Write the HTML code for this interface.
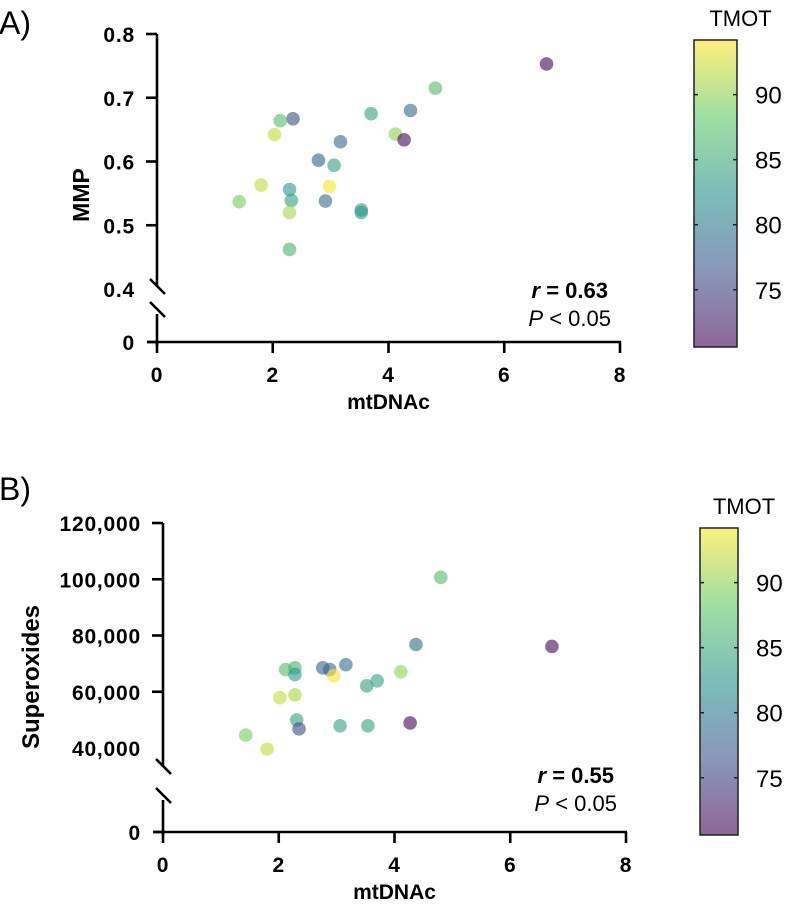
<!DOCTYPE html>
<html><head><meta charset="utf-8"><style>
html,body{margin:0;padding:0;background:#fff;}
svg{display:block;font-family:"Liberation Sans",Arial,sans-serif;}
</style></head><body>
<svg id="fig" width="786" height="910" viewBox="0 0 786 910" xmlns="http://www.w3.org/2000/svg">
<defs>
<linearGradient id="vir" x1="0" y1="1" x2="0" y2="0">
<stop offset="0" stop-color="#440154"/><stop offset="0.25" stop-color="#3b528b"/><stop offset="0.5" stop-color="#21918c"/><stop offset="0.75" stop-color="#5ec962"/><stop offset="1" stop-color="#fde725"/>
</linearGradient>
</defs>
<g id="pa"></g>
<g id="pb"></g>
</svg>
<script>
const xTicks=[0,2,4,6,8];
const aYTicks=[0.4,0.5,0.6,0.7,0.8];
const aYTickLabels=["0.4","0.5","0.6","0.7","0.8"];
const bYTicks=[40000,60000,80000,100000,120000];
const bYTickLabels=["40,000","60,000","80,000","100,000","120,000"];
const cbTicks=[75,80,85,90];
const aX=[6.73,4.81,4.38,3.70,2.35,2.13,2.03,4.12,4.27,3.17,2.79,3.06,1.80,2.98,2.29,1.42,2.32,2.91,2.29,3.53,3.53,2.29];
const aY=[0.753,0.715,0.680,0.675,0.667,0.664,0.642,0.643,0.634,0.631,0.602,0.594,0.563,0.561,0.556,0.537,0.539,0.538,0.520,0.524,0.520,0.462];
const aT=[71,87,79,84,76,87,92,90,71,79,78,84,92,94,83,89,84,79,91,84,83,86];
const bX=[4.80,4.37,6.72,3.16,2.76,2.88,2.12,2.28,2.28,2.95,4.11,3.70,3.52,2.02,2.28,2.31,2.35,3.06,3.54,4.27,1.43,1.80];
const bY=[100700,76800,76100,69600,68500,67900,67900,68500,66100,65700,67100,63900,62100,57900,58900,50000,46800,47900,47900,48900,44600,39600];
const bT=[87,79,71,79,78,78,87,86,83,94,90,84,84,92,91,84,76,84,84,71,89,92];

const NS="http://www.w3.org/2000/svg";
function mk(parent,tag,attrs,text){const e=document.createElementNS(NS,tag);for(const k in attrs)e.setAttribute(k,attrs[k]);if(text!==undefined)e.textContent=text;parent.appendChild(e);return e;}
const VS=[[68,1,84],[59,82,139],[33,145,140],[94,201,98],[253,231,37]];
function vir(t){t=Math.max(0,Math.min(1,t));const s=t*4;const i=Math.min(3,Math.floor(s));const f=s-i;const a=VS[i],b=VS[i+1];return `rgb(${Math.round(a[0]+(b[0]-a[0])*f)},${Math.round(a[1]+(b[1]-a[1])*f)},${Math.round(a[2]+(b[2]-a[2])*f)})`;}
const TMIN=70.6,TMAX=94.2;

function panel(g,o){
  const sx=v=>o.x0+(o.x1-o.x0)*v/8;
  const sy=v=>o.yTop+(o.yBot-o.yTop)*(o.yMax-v)/(o.yMax-o.yMin);
  const lw={stroke:"#000","stroke-width":2.6,fill:"none"};
  const tick={"font-size":21,"font-weight":"bold","letter-spacing":"0.8px"};
  let t=mk(g,"text",{x:-1,y:o.letterY,"font-size":32,fill:"#000"},o.letter);
  
  
  let l=mk(g,"line",Object.assign({x1:o.x0,y1:o.yTop,x2:o.x0,y2:o.brk1},lw));
  
  
  l=mk(g,"line",Object.assign({x1:o.x0,y1:o.brk2,x2:o.x0,y2:o.zeroY+4},lw));
  
  
  l=mk(g,"line",Object.assign({x1:o.x0-7,y1:o.brk1-8,x2:o.x0+8,y2:o.brk1+7},lw));
  
  
  l=mk(g,"line",Object.assign({x1:o.x0-7,y1:o.brk2-12,x2:o.x0+8,y2:o.brk2+3},lw));
  
  
  l=mk(g,"line",Object.assign({x1:o.x0-10,y1:o.zeroY,x2:o.x1+1,y2:o.zeroY},lw));
  
  
  xTicks.forEach(v=>{
    const x=sx(v);
    const tk=mk(g,"line",Object.assign({x1:x,y1:o.zeroY,x2:x,y2:o.zeroY+11},lw));
    
    
    const tl=mk(g,"text",Object.assign({x:x,y:o.zeroY+40,"text-anchor":"middle"},tick),String(v));
    
    
  });
  let z=mk(g,"line",Object.assign({x1:o.x0-10,y1:o.zeroY,x2:o.x0,y2:o.zeroY},lw));
  
  
  z=mk(g,"text",Object.assign({x:o.x0-22,y:o.zeroY+8,"text-anchor":"end"},tick),"0");
  
  
  o.yTicks.forEach((v,i)=>{
    const y=sy(v);
    if(v>o.yMin){const tk=mk(g,"line",Object.assign({x1:o.x0-11,y1:y,x2:o.x0,y2:y},lw));
    
    }
    const tl=mk(g,"text",Object.assign({x:o.x0-22,y:y+8,"text-anchor":"end"},tick),o.yLabels[i]);
    
    
  });
  let tt=mk(g,"text",{x:(o.x0+o.x1)/2,y:o.zeroY+67,"font-size":21,"font-weight":"bold","text-anchor":"middle"},"mtDNAc");
  
  
  tt=mk(g,"text",{x:0,y:0,"font-size":o.ytSize,"font-weight":"bold","text-anchor":"middle",transform:`translate(${o.ytX},${o.ytY}) rotate(-90)`},o.yTitle);
  
  
  o.xs.forEach((xv,i)=>{
    const c=mk(g,"circle",{cx:sx(xv),cy:sy(o.ys[i]),r:6.8,fill:vir((o.ts[i]-TMIN)/(TMAX-TMIN)),"fill-opacity":0.6});
    
    
  });
  const st=mk(g,"text",{x:o.x1-12,y:o.statY,"font-size":22,"font-weight":"bold","text-anchor":"end"});
  
  
  mk(st,"tspan",{"font-style":"italic"},"r");mk(st,"tspan",{},` = ${o.r}`);
  const sp=mk(g,"text",{x:o.x1-9,y:o.statY+28,"font-size":22,"text-anchor":"end"});
  
  
  mk(sp,"tspan",{"font-style":"italic"},"P");mk(sp,"tspan",{}," < 0.05");
  const cb=mk(g,"rect",{x:o.cbX,y:o.cbTop,width:o.cbW,height:o.cbBot-o.cbTop,fill:"url(#vir)","fill-opacity":0.6,stroke:"#222","stroke-width":1.5});
  
  
  const cy=v=>o.cbBot-(o.cbBot-o.cbTop)*(v-TMIN)/(TMAX-TMIN);
  cbTicks.forEach(v=>{
    const y=cy(v);
    mk(g,"line",{x1:o.cbX,y1:y,x2:o.cbX+4,y2:y,stroke:"#222","stroke-width":1.5});
    mk(g,"line",{x1:o.cbX+o.cbW-4,y1:y,x2:o.cbX+o.cbW,y2:y,stroke:"#222","stroke-width":1.5});
    const tl=mk(g,"text",{x:o.cbX+o.cbW+18,y:y+9,"font-size":24},String(v));
    
    
  });
  const ct=mk(g,"text",{x:o.cbX+o.cbW/2+25,y:o.cbTop-14,"font-size":22,"text-anchor":"middle"},"TMOT");
  
  
}
panel(document.getElementById('pa'),{letter:"A)",letterY:34,x0:157,x1:620,yTop:34,yBot:289,yMin:0.4,yMax:0.8,zeroY:342,brk1:287,brk2:314,
  yTicks:aYTicks,yLabels:aYTickLabels,yTitle:"MMP",ytSize:23,ytX:89,ytY:195,xs:aX,ys:aY,ts:aT,r:"0.63",statY:298,
  cbX:694,cbW:43,cbTop:40,cbBot:347});
panel(document.getElementById('pb'),{letter:"B)",letterY:500,x0:163,x1:626,yTop:523,yBot:748,yMin:40000,yMax:120000,zeroY:832,brk1:767,brk2:800,
  yTicks:bYTicks,yLabels:bYTickLabels,yTitle:"Superoxides",ytSize:24,ytX:39,ytY:677,xs:bX,ys:bY,ts:bT,r:"0.55",statY:783,
  cbX:700,cbW:38,cbTop:528,cbBot:835});
</script>
</body></html>
